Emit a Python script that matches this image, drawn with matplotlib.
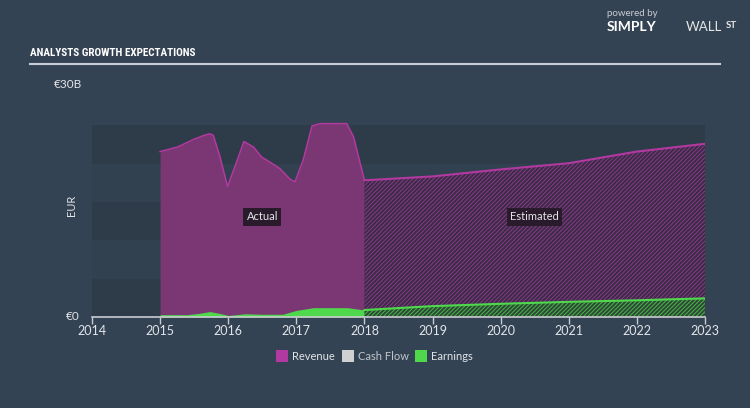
import matplotlib
matplotlib.use("Agg")
import matplotlib.pyplot as plt
from matplotlib.patches import Rectangle
from matplotlib import font_manager

plt.rcParams['font.family'] = ['Lato', 'DejaVu Sans']
plt.rcParams['hatch.linewidth'] = 0.7

# revenue, actual (year, EUR bn)
rev_act_x = [2015.0, 2015.26, 2015.5, 2015.65, 2015.73, 2015.78, 2015.88, 2015.99, 2016.1, 2016.23,
             2016.37, 2016.49, 2016.62, 2016.76, 2016.9, 2016.98, 2017.1, 2017.23, 2017.35,
             2017.74, 2017.84, 2018.0]
rev_act_y = [21.3, 21.9, 22.9, 23.4, 23.6, 23.4, 20.6, 16.8, 19.4, 22.6,
             21.9, 20.6, 19.9, 19.1, 17.8, 17.4, 20.2, 24.6, 24.9,
             24.9, 23.2, 17.6]
# revenue, estimated
rev_est_x = [2018, 2019, 2020, 2021, 2022, 2023]
rev_est_y = [17.6, 18.1, 19.0, 19.8, 21.3, 22.3]

# earnings, actual
earn_act_x = [2015.0, 2015.4, 2015.6, 2015.73, 2015.88, 2016.0, 2016.12, 2016.25, 2016.5,
              2016.8, 2017.0, 2017.25, 2017.75, 2018.0]
earn_act_y = [0.3, 0.3, 0.5, 0.7, 0.45, 0.2, 0.3, 0.42, 0.35,
              0.35, 0.85, 1.2, 1.2, 0.9]
# earnings, estimated
earn_est_x = [2018, 2019, 2020, 2021, 2022, 2023]
earn_est_y = [0.9, 1.4, 1.7, 1.95, 2.15, 2.4]

years = list(range(2014, 2024))
legend_items = ['Revenue', 'Cash Flow', 'Earnings']

BG = '#344353'
REV_LINE = '#b2399f'
REV_FILL = '#7b3774'
EARN = '#4fd84c'
TXT = '#e2e4e8'

# narrow font for the heading, if one is installed
names = {f.name for f in font_manager.fontManager.ttflist}
title_fam = [n for n in ['Liberation Sans Narrow', 'DejaVu Sans Condensed', 'Roboto Condensed'] if n in names]
title_fam = title_fam + ['Roboto', 'DejaVu Sans']

fig = plt.figure(figsize=(7.5, 4.08), dpi=100, facecolor=BG)
ax = fig.add_axes([92 / 750, 91 / 408, 613 / 750, 233 / 408])
ax.set_facecolor(BG)
ax.set_xlim(2014, 2023)
ax.set_ylim(0, 30)

# background bands
band_top = 24.7
band_h = band_top / 5
for i in range(5):
    c = '#2e3c4a' if i % 2 == 0 else '#324150'
    ax.axhspan(i * band_h, (i + 1) * band_h, color=c, lw=0, zorder=0)

# revenue
ax.fill_between(rev_act_x, rev_act_y, color=REV_FILL, lw=0, zorder=2)
ax.plot(rev_act_x, rev_act_y, color=REV_LINE, lw=1.1, zorder=3, solid_joinstyle='round')
ax.fill_between(rev_est_x, rev_est_y, facecolor='#3a2c47', edgecolor='#8a3886',
                hatch='////////', lw=0, zorder=2)
ax.plot(rev_est_x, rev_est_y, color=REV_LINE, lw=1.5, zorder=3)

# earnings
ax.fill_between(earn_act_x, earn_act_y, color=EARN, lw=0, zorder=4)
ax.fill_between(earn_est_x, earn_est_y, facecolor='#2e4838', edgecolor='#47b945',
                hatch='////////', lw=0, zorder=4)
ax.plot(earn_est_x, earn_est_y, color=EARN, lw=1.5, zorder=5)

for s in ['top', 'right', 'left']:
    ax.spines[s].set_visible(False)
ax.spines['bottom'].set_color('#c9ccd2')
ax.spines['bottom'].set_linewidth(1.2)
ax.spines['bottom'].set_zorder(6)
ax.set_xticks(years)
ax.set_xticklabels([str(y) for y in years])
ax.tick_params(axis='x', colors='#c9ccd2', labelcolor=TXT, labelsize=9, length=5, width=1, pad=1)
ax.set_yticks([])

ax.text(2016.5, 12.9, 'Actual', color=TXT, fontsize=8, ha='center', va='center',
        bbox=dict(boxstyle='square,pad=0.3', fc='#2a1b2c', ec='none'), zorder=7)
ax.text(2020.5, 12.9, 'Estimated', color=TXT, fontsize=8, ha='center', va='center',
        bbox=dict(boxstyle='square,pad=0.3', fc='#2a1b2c', ec='none'), zorder=7)

# y labels
fig.text(54 / 750, 1 - 84 / 408, '€30B', color=TXT, fontsize=8.5, va='center', ha='left')
fig.text(80 / 750, 1 - 316 / 408, '€0', color=TXT, fontsize=8.5, va='center', ha='right')
fig.text(72 / 750, 1 - 205 / 408, 'EUR', color=TXT, fontsize=8, va='center', ha='center', rotation=90)

# title
fig.text(30 / 750, 1 - 53 / 408, 'ANALYSTS GROWTH EXPECTATIONS', color='white', fontsize=8,
         fontweight='bold', fontstretch='condensed', va='center', ha='left', family=title_fam)
fig.add_artist(plt.Line2D([30 / 750, 720 / 750], [1 - 64 / 408, 1 - 64 / 408], color='#c8ced6', lw=1.5))

# logo text
fig.text(607 / 750, 1 - 14 / 408, 'powered by', color='#c8ccd2', fontsize=7, va='center', ha='left')
fig.text(607 / 750, 1 - 27 / 408, 'SIMPLY', color='white', fontsize=10, fontweight='bold', va='center', ha='left')
fig.text(686 / 750, 1 - 27 / 408, 'WALL', color='#e6e6e6', fontsize=9.5, va='center', ha='left')
fig.text(726 / 750, 1 - 25 / 408, 'ST', color='#e6e6e6', fontsize=7, fontweight='bold', va='center', ha='left')

# legend
leg_colors = [REV_LINE, '#d0d0d0', EARN]
leg_x = [276, 342, 415]
for name, col, x in zip(legend_items, leg_colors, leg_x):
    fig.add_artist(Rectangle((x / 750, 1 - 362 / 408), 12 / 750, 12 / 408, transform=fig.transFigure,
                             fc=col, ec='none'))
    fig.text((x + 16) / 750, 1 - 356 / 408, name, color=TXT if name != 'Cash Flow' else '#c2c6cc',
             fontsize=8, va='center', ha='left')

fig.savefig('out.png', dpi=100, facecolor=BG)
